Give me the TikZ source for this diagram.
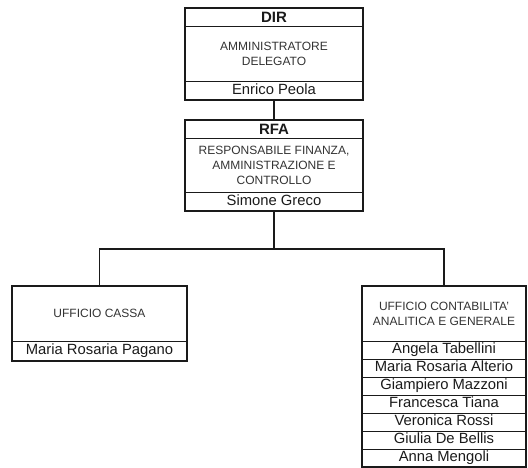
\documentclass[tikz,border=0pt]{standalone}
\usepackage{fontspec}
\setmainfont{Liberation Sans}
\usetikzlibrary{positioning, calc}
\definecolor{ink}{HTML}{1a1a1a}
\definecolor{inkSoft}{HTML}{333333}

\begin{document}
\begin{tikzpicture}[x=1pt, y=-1pt, cell/.style={draw=ink, line width=0.9pt, outer sep=0pt, inner sep=1pt, align=center, text=ink}, hdr/.style={cell, minimum width=178pt, minimum height=18pt, font=\bfseries\fontsize{15}{16}\selectfont}, ttl/.style={cell, font=\fontsize{12}{15}\selectfont, text=inkSoft}, person/.style={cell, minimum height=18pt, text height=10.5pt, text depth=3.2pt, font=\fontsize{14.8}{16}\selectfont}, boxframe/.style={draw=ink, line width=1.8pt}, link/.style={draw=ink, line width=1.1pt}]
\useasboundingbox (0,0) rectangle (528,468);
% direzione
\node[hdr] (dirH) at (274,17) {DIR};
\node[ttl, minimum width=178pt, minimum height=55pt, below=0pt of dirH] (dirT) {AMMINISTRATORE\\DELEGATO};
\node[person, minimum width=178pt, minimum height=19pt, below=0pt of dirT] (dirN) {Enrico Peola};
% finanza
\node[hdr] (rfaH) at (274,129) {RFA};
\node[ttl, minimum width=178pt, minimum height=54pt, below=0pt of rfaH] (rfaT) {RESPONSABILE FINANZA,\\AMMINISTRAZIONE E\\CONTROLLO};
\node[person, minimum width=178pt, minimum height=19pt, below=0pt of rfaT] (rfaN) {Simone Greco};
% uffici
\node[ttl, minimum width=175pt, minimum height=55pt] (cassaT) at (99.5,313.5) {UFFICIO CASSA};
\node[person, minimum width=175pt, minimum height=20pt, below=0pt of cassaT] (cassaN) {Maria Rosaria Pagano};
\node[ttl, minimum width=164pt, minimum height=55pt] (contT) at (444,313.5) {UFFICIO CONTABILITA'\\ANALITICA E GENERALE};
\node[person, minimum width=164pt, below=0pt of contT] (cont1) {Angela Tabellini};
\node[person, minimum width=164pt, below=0pt of cont1] (cont2) {Maria Rosaria Alterio};
\node[person, minimum width=164pt, below=0pt of cont2] (cont3) {Giampiero Mazzoni};
\node[person, minimum width=164pt, below=0pt of cont3] (cont4) {Francesca Tiana};
\node[person, minimum width=164pt, below=0pt of cont4] (cont5) {Veronica Rossi};
\node[person, minimum width=164pt, below=0pt of cont5] (cont6) {Giulia De Bellis};
\node[person, minimum width=164pt, below=0pt of cont6] (cont7) {Anna Mengoli};
% cornici
\draw[boxframe] (dirH.north west) rectangle (dirN.south east);
\draw[boxframe] (rfaH.north west) rectangle (rfaN.south east);
\draw[boxframe] (cassaT.north west) rectangle (cassaN.south east);
\draw[boxframe] (contT.north west) rectangle (cont7.south east);
% collegamenti
\coordinate (bus) at ($(rfaN.south)+(0,38)$);
\draw[link] (dirN.south) -- (rfaH.north);
\draw[link] (rfaN.south) -- (bus);
\draw[link] (bus) -| (cassaT.north);
\draw[link] (bus) -| (contT.north);
\end{tikzpicture}
\end{document}
